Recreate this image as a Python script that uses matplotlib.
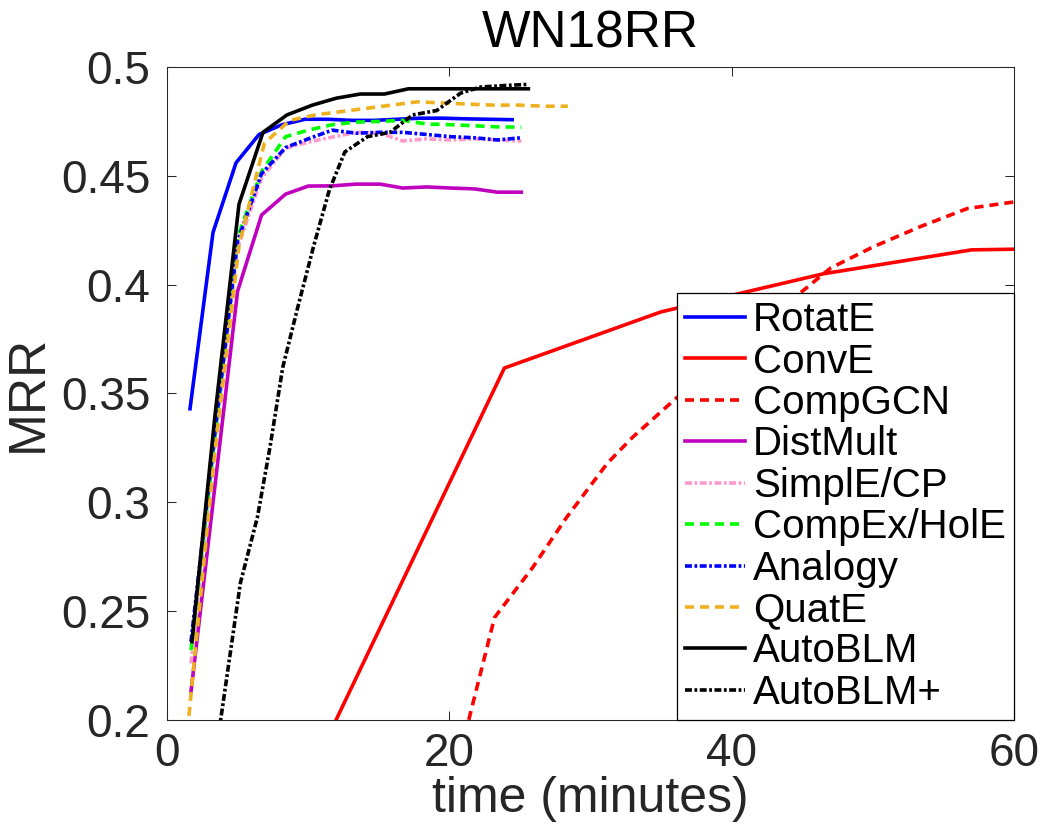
import numpy as np
import matplotlib
matplotlib.use('Agg')
import matplotlib.pyplot as plt
from matplotlib.ticker import FuncFormatter

plt.rcParams['font.family'] = ['Liberation Sans', 'DejaVu Sans']
plt.rcParams['lines.scale_dashes'] = False

# time grids (minutes)
t_rotate = [1.63, 3.26, 4.89, 6.52, 8.15, 9.78, 11.41, 13.04, 14.67, 16.3, 17.93, 19.56, 21.19, 22.82, 24.45]
t_autoblm = [1.77, 3.4, 5.1, 6.8, 8.5, 10.3, 12.0, 13.7, 15.4, 17.1, 18.8, 20.5, 22.2, 23.9, 25.6]
t_base = [1.7, 3.35, 5.0, 6.7, 8.4, 10.0, 11.7, 13.4, 15.1, 16.7, 18.4, 20.1, 21.8, 23.4, 25.1]
t_quate = [1.45, 3.3, 5.1, 6.9, 8.7, 10.5, 12.3, 14.1, 15.9, 17.7, 19.5, 21.3, 23.1, 24.9, 26.7, 28.4]
t_autoblm_plus = [3.4, 5.2, 6.4, 7.3, 8.2, 9.2, 10.4, 11.5, 12.6, 14.2, 15.8, 17.4, 19.1, 20.8, 22.2, 23.9, 25.5]
t_conve = [10.5, 23.9, 35.0, 46.5, 57.0, 62.0]
t_compgcn = [20.6, 23.2, 23.6, 25.9, 28.3, 31.2, 33.0, 36.1, 40.5, 45.2, 47.0, 50.0, 53.3, 56.7, 60.0, 62.0]

# MRR values
mrr_rotate = [0.343, 0.424, 0.456, 0.469, 0.4735, 0.476, 0.476, 0.4755, 0.4755, 0.476, 0.4765, 0.4765, 0.4762, 0.476, 0.4758]
mrr_conve = [0.18, 0.3617, 0.3875, 0.405, 0.416, 0.4165]
mrr_compgcn = [0.18, 0.247, 0.2505, 0.270, 0.293, 0.318, 0.330, 0.348, 0.373, 0.398, 0.4076, 0.4173, 0.4265, 0.435, 0.438, 0.4395]
mrr_distmult = [0.213, 0.305, 0.397, 0.432, 0.4416, 0.4453, 0.4454, 0.4462, 0.4462, 0.4444, 0.4449, 0.4444, 0.444, 0.4425, 0.4425]
mrr_simple = [0.226, 0.325, 0.417, 0.449, 0.4627, 0.4655, 0.4678, 0.470, 0.4696, 0.466, 0.467, 0.4665, 0.467, 0.4665, 0.466]
mrr_compex = [0.232, 0.328, 0.422, 0.452, 0.468, 0.471, 0.4735, 0.4747, 0.475, 0.4755, 0.4738, 0.4735, 0.473, 0.4725, 0.4724]
mrr_analogy = [0.236, 0.33, 0.42, 0.451, 0.463, 0.467, 0.471, 0.4696, 0.470, 0.470, 0.469, 0.468, 0.4675, 0.4665, 0.4675]
mrr_quate = [0.195, 0.318, 0.418, 0.465, 0.4755, 0.478, 0.4795, 0.481, 0.4825, 0.484, 0.4835, 0.483, 0.4825, 0.4825, 0.482, 0.482]
mrr_autoblm = [0.236, 0.34, 0.437, 0.470, 0.478, 0.4825, 0.4857, 0.4876, 0.4876, 0.490, 0.490, 0.490, 0.490, 0.490, 0.490]
mrr_autoblm_plus = [0.182, 0.263, 0.293, 0.3255, 0.362, 0.388, 0.418, 0.4435, 0.461, 0.468, 0.470, 0.478, 0.480, 0.488, 0.4908, 0.4915, 0.492]

dash = (0, (6.5, 4.3))
dashdot = (0, (5.0, 1.8, 2.0, 1.8))
lw = 2.6

series = [
    ('RotatE', t_rotate, mrr_rotate, '#0000ff', '-'),
    ('ConvE', t_conve, mrr_conve, '#ff0000', '-'),
    ('CompGCN', t_compgcn, mrr_compgcn, '#ff0000', dash),
    ('DistMult', t_base, mrr_distmult, '#bf00bf', '-'),
    ('SimplE/CP', t_base, mrr_simple, '#ff99cc', dashdot),
    ('CompEx/HolE', t_base, mrr_compex, '#00ff00', dash),
    ('Analogy', t_base, mrr_analogy, '#0000ff', dashdot),
    ('QuatE', t_quate, mrr_quate, '#edb120', dash),
    ('AutoBLM', t_autoblm, mrr_autoblm, '#000000', '-'),
    ('AutoBLM+', t_autoblm_plus, mrr_autoblm_plus, '#000000', dashdot),
]

fig = plt.figure(figsize=(10.49, 8.4), dpi=100)
ax = fig.add_axes([0.1592, 0.1429, 0.8074, 0.7773])

for name, t, y, c, ls in series:
    ax.plot(t, y, color=c, linestyle=ls, linewidth=lw, label=name)

ax.set_xlim(0, 60)
ax.set_ylim(0.2, 0.5)
ax.set_xticks([0, 20, 40, 60])
ax.set_yticks([0.2, 0.25, 0.3, 0.35, 0.4, 0.45, 0.5])
ax.yaxis.set_major_formatter(FuncFormatter(lambda v, p: '%g' % round(v, 2)))

ax.tick_params(direction='in', length=6.5, width=0.75, top=True, right=True,
               labelsize=33, colors='#262626')
ax.tick_params(axis='y', pad=12)
ax.tick_params(axis='x', pad=9)
for s in ax.spines.values():
    s.set_linewidth(0.75)
    s.set_color('#262626')

ax.set_xlabel('time (minutes)', fontsize=36, color='#262626', labelpad=0)
ax.set_ylabel('MRR', fontsize=37, color='#262626', labelpad=6)
ax.set_title('WN18RR', fontsize=37, color='black', pad=14)

leg = ax.legend(loc='lower right', fontsize=29, frameon=True, fancybox=False,
                edgecolor='black', framealpha=1, borderaxespad=0,
                handlelength=1.5, handletextpad=0.2, labelspacing=0.085,
                borderpad=0.2)
leg.get_frame().set_linewidth(0.9)

fig.savefig('out.png', dpi=100)
